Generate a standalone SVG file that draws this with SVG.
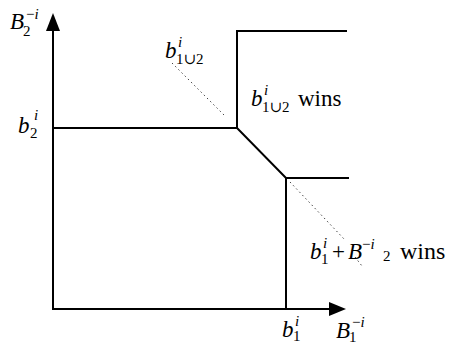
<svg xmlns="http://www.w3.org/2000/svg" width="459" height="345" viewBox="0 0 459 345">
<style>
.ln{fill:none;stroke:#000;stroke-width:2;stroke-linecap:square}
.dt{fill:none;stroke:#444;stroke-width:1;stroke-dasharray:1.5 3}
.m{font-size:23px}
.s{font-size:15px}
.it{font-style:italic}
</style>
<rect width="459" height="345" fill="#fff"/>
<g id="connectors">
<line class="ln" x1="53" y1="309" x2="53" y2="30"/>
<polygon points="53,13 46,31 60,31" fill="#000"/>
<line class="ln" x1="53" y1="309" x2="330" y2="309"/>
<polygon points="346,309 329,302 329,316" fill="#000"/>
<path class="ln" d="M53,128 H237 V31 H346"/>
<path class="ln" d="M237,128 L286,178 H348"/>
<path class="ln" d="M286,178 V309"/>
<path class="dt" d="M172,63 L226,117"/>
<path class="dt" d="M290,182 L345,240 M355,257 L362,266"/>
</g>
<g font-family="'Liberation Serif', 'DejaVu Serif', serif" fill="#000">
<g id="label-B2">
<text class="m it" x="10" y="29">B</text>
<text class="s" x="23" y="36">2</text>
<text class="s" x="26" y="19">−<tspan class="it">i</tspan></text>
</g>
<g id="label-b2">
<text class="m it" x="18" y="133">b</text>
<text class="s" x="30" y="138">2</text>
<text class="s it" x="34" y="120">i</text>
</g>
<g id="label-b12">
<text class="m it" x="165" y="58">b</text>
<text class="s" x="176" y="64">1∪2</text>
<text class="s it" x="178" y="47">i</text>
</g>
<g id="label-b12-wins">
<text class="m it" x="251" y="106">b</text>
<text class="s" x="262" y="112">1∪2</text>
<text class="s it" x="264" y="95">i</text>
<text class="m" x="298" y="106">wins</text>
</g>
<g id="label-b1B2-wins">
<text class="m it" x="310" y="259">b</text>
<text class="s" x="321" y="264">1</text>
<text class="s it" x="323" y="248">i</text>
<text class="m" x="332" y="259">+</text>
<text class="m it" x="348" y="259">B</text>
<text class="s" x="362" y="249">−<tspan class="it">i</tspan></text>
<text class="s" x="383" y="261">2</text>
<text x="400" y="259" font-size="24">wins</text>
</g>
<g id="label-b1">
<text class="m it" x="282" y="337">b</text>
<text class="s" x="293" y="341">1</text>
<text class="s it" x="295" y="326">i</text>
</g>
<g id="label-B1">
<text class="m it" x="336" y="338">B</text>
<text class="s" x="349" y="342">1</text>
<text class="s" x="352" y="327">−<tspan class="it">i</tspan></text>
</g>
</g>
</svg>
